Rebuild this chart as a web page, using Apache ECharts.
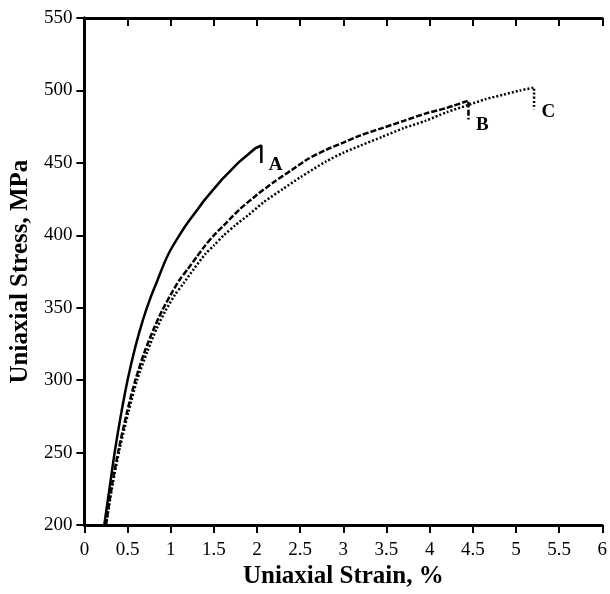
<!DOCTYPE html>
<html>
<head>
<meta charset="utf-8">
<script src="https://cdn.jsdelivr.net/npm/echarts@6/dist/echarts.min.js"></script>
<style>
  html, body { margin: 0; padding: 0; background: #fff; }
  #chart { width: 610px; height: 594px; }
</style>
</head>
<body>
<div id="chart"></div>
<script>
// strain (%) / stress (MPa)
var curveA = [[0.23,200],[0.29,225],[0.35,250],[0.42,275],[0.50,300],[0.59,323],[0.68,342],[0.76,356],[0.84,368],[0.92,380],[0.99,389],[1.10,400],[1.2,409],[1.3,417],[1.4,425],[1.5,432],[1.6,439],[1.7,445],[1.8,451],[1.9,456],[1.98,460],[2.05,462],[2.05,450]];
var curveB = [[0.25,200],[0.32,228],[0.40,253],[0.49,277],[0.59,300],[0.70,320],[0.80,335],[0.90,348],[1.0,359],[1.1,369],[1.2,377],[1.3,385],[1.4,393],[1.5,400],[1.65,409],[1.8,418],[2.0,428],[2.2,437],[2.4,445],[2.6,453],[2.8,459],[3.0,464],[3.2,469],[3.45,474],[3.7,479],[3.95,484],[4.2,488],[4.45,493],[4.45,480]];
var curveC = [[0.25,200],[0.33,229],[0.41,253],[0.51,278],[0.61,300],[0.73,320],[0.84,336],[0.94,348],[1.05,359],[1.15,367],[1.27,377],[1.4,387],[1.5,393],[1.615,400],[1.75,407],[1.9,414],[2.08,423],[2.3,432],[2.5,440],[2.8,451],[3.0,457],[3.2,462],[3.45,468],[3.7,474],[3.95,479],[4.2,485],[4.45,490],[4.65,494],[4.85,497],[5.05,500],[5.21,502],[5.21,487]];
var curveNames = ['A', 'B', 'C'];
var xTicks = [0,0.5,1,1.5,2,2.5,3,3.5,4,4.5,5,5.5,6];
var yTicks = [200,250,300,350,400,450,500,550];

var serif = 'Liberation Serif';

var dom = document.getElementById('chart');
var myChart = echarts.init(dom, null, { renderer: 'canvas' });

// letter next to the end of each curve
function endMark(data, text, offset) {
  return {
    symbol: 'circle', symbolSize: 1,
    itemStyle: { color: 'rgba(0,0,0,0)' },
    label: {
      show: true, formatter: text, position: 'right', offset: offset,
      fontFamily: serif, fontWeight: 'bold', fontSize: 19, color: '#000'
    },
    data: [{ coord: data[data.length - 1] }]
  };
}

var axisLine = { show: true, lineStyle: { color: '#000', width: 3 } };
var tickOut = { show: true, length: 8, lineStyle: { color: '#000', width: 2 } };
var tickIn = { show: true, inside: true, length: 8, lineStyle: { color: '#000', width: 2 } };

var option = {
  animation: false,
  backgroundColor: '#fff',
  grid: { left: 84, right: 6, top: 18, bottom: 56 },
  xAxis: [
    {
      type: 'value', min: xTicks[0], max: xTicks[xTicks.length - 1], interval: 0.5,
      name: 'Uniaxial Strain, %', nameLocation: 'middle', nameGap: 35,
      nameTextStyle: { fontFamily: serif, fontWeight: 'bold', fontSize: 25, color: '#000' },
      axisLine: axisLine, axisTick: tickOut,
      axisLabel: { fontFamily: serif, fontSize: 19, color: '#000', margin: 15 },
      splitLine: { show: false }
    },
    {
      type: 'value', position: 'top', min: xTicks[0], max: xTicks[xTicks.length - 1], interval: 0.5,
      axisLine: axisLine, axisTick: tickIn,
      axisLabel: { show: false }, splitLine: { show: false }
    }
  ],
  yAxis: [
    {
      type: 'value', min: yTicks[0], max: yTicks[yTicks.length - 1], interval: 50,
      name: 'Uniaxial Stress, MPa', nameLocation: 'middle', nameGap: 49,
      nameTextStyle: { fontFamily: serif, fontWeight: 'bold', fontSize: 25, color: '#000' },
      axisLine: axisLine, axisTick: tickOut,
      axisLabel: { fontFamily: serif, fontSize: 19, color: '#000', margin: 12 },
      splitLine: { show: false }
    },
    {
      type: 'value', position: 'right', min: yTicks[0], max: yTicks[yTicks.length - 1], interval: 50,
      axisLine: axisLine, axisTick: tickIn,
      axisLabel: { show: false }, splitLine: { show: false }
    }
  ],
  series: [
    {
      name: curveNames[0], type: 'line', symbol: 'none', smooth: 0.25,
      data: curveA,
      lineStyle: { color: '#000', width: 2.5, type: 'solid' },
      markPoint: endMark(curveA, curveNames[0], [2, 2])
    },
    {
      name: curveNames[1], type: 'line', symbol: 'none', smooth: 0.25,
      data: curveB,
      lineStyle: { color: '#000', width: 2.5, type: [6, 2] },
      markPoint: endMark(curveB, curveNames[1], [2, 6])
    },
    {
      name: curveNames[2], type: 'line', symbol: 'none', smooth: 0.25,
      data: curveC,
      lineStyle: { color: '#000', width: 2.5, type: [2, 2] },
      markPoint: endMark(curveC, curveNames[2], [2, 3])
    }
  ]
};

if (option && typeof option === 'object') {
  myChart.setOption(option);
}

window.addEventListener('resize', myChart.resize);
</script>
</body>
</html>
